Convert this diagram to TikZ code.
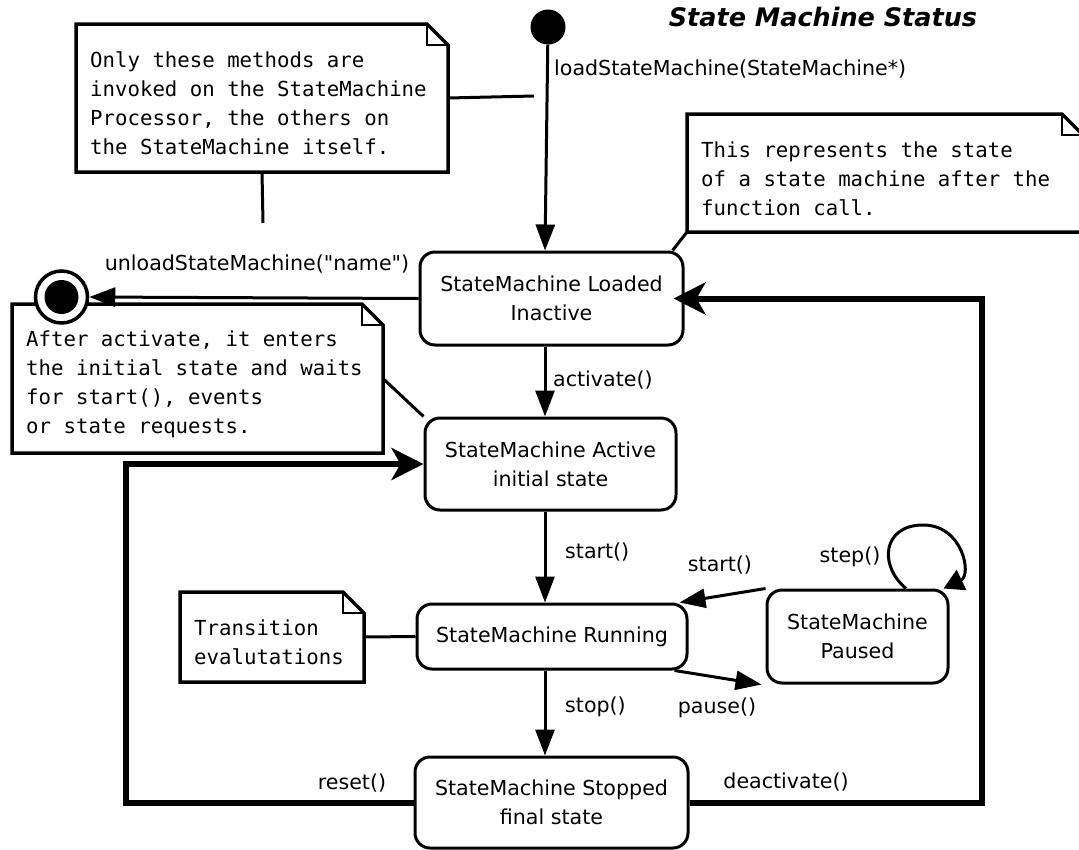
\documentclass[tikz,border=0pt]{standalone}
\usepackage{fontspec}
\setmainfont{DejaVu Sans}[Ligatures=TeXOff]
\newfontfamily\notemono{DejaVu Sans Mono}
\usetikzlibrary{arrows.meta}
\newcommand\statefont{\fontsize{20.6pt}{29pt}\selectfont}
\newcommand\notefont{\notemono\fontsize{20.7pt}{29pt}\selectfont}
\newcommand\titlefont{\fontsize{25.5pt}{30pt}\selectfont\bfseries\itshape}
\newcommand\dogear[1]{%
  \draw[notestroke] (#1.north west) -- ([xshift=-21pt]#1.north east) -- ([yshift=-21pt]#1.north east) -- (#1.south east) -- (#1.south west) -- cycle;
  \draw[foldstroke] ([xshift=-21pt]#1.north east) -- ([xshift=-21pt,yshift=-21pt]#1.north east) -- ([yshift=-21pt]#1.north east);}
\begin{document}
\begin{tikzpicture}[x=1pt,y=-1pt,
  state/.style={draw, line width=3pt, rounded corners=15pt, inner sep=0pt, font=\statefont, align=center},
  lbl/.style={inner sep=0pt, font=\statefont},
  notebg/.style={inner sep=0pt, outer sep=0pt, anchor=north west},
  notetext/.style={inner sep=0pt, anchor=west, align=left, font=\notefont},
  notestroke/.style={line width=3.5pt, fill=white, line join=miter},
  foldstroke/.style={line width=2pt},
  thinarrow/.style={line width=3pt, -{Triangle[length=26pt,width=19pt]}},
  looparrow/.style={line width=6pt, -{Stealth[length=32pt,width=32pt,inset=9pt]}},
  link/.style={line width=3pt},
  initst/.style={circle, fill=black, minimum size=35pt, inner sep=0pt},
  finalst/.style={circle, draw, fill=white, line width=3.5pt, minimum size=52pt, inner sep=0pt},
  finalin/.style={circle, fill=black, minimum size=34pt, inner sep=0pt}
]
\useasboundingbox (0,0) rectangle (1079,849);
\fill[white] (0,0) rectangle (1079,849);
\clip (0,0) rectangle (1079,849);

% title
\node[inner sep=0pt, font=\titlefont] (title) at (823,17) {State Machine Status};

% states
\node[initst] (init) at (548,27) {};
\node[state, minimum width=263pt, minimum height=93pt] (loaded) at (551.5,298.5) {StateMachine Loaded\\Inactive};
\node[state, minimum width=251pt, minimum height=92pt] (active) at (550.5,464) {StateMachine Active\\initial state};
\node[state, minimum width=270pt, minimum height=65pt] (running) at (552,636.5) {StateMachine Running};
\node[state, minimum width=181pt, minimum height=93pt] (paused) at (857.5,636.5) {StateMachine\\Paused};
\node[state, minimum width=273pt, minimum height=91pt] (stopped) at (551.5,802.5) {StateMachine Stopped\\final state};

% notes
\node[notebg, minimum width=372pt, minimum height=148pt] (n1) at (76,24) {};
\dogear{n1}
\node[notetext] (n1t) at (90,103.5) {Only these methods are\\invoked on the StateMachine\\Processor, the others on\\the StateMachine itself.};

\node[notebg, minimum width=396pt, minimum height=118pt] (n2) at (687,114) {};
\dogear{n2}
\node[notetext] (n2t) at (701,179) {This represents the state\\of a state machine after the\\function call.};

\node[notebg, minimum width=371pt, minimum height=149pt] (n3) at (12,304) {};
\dogear{n3}
\node[notetext] (n3t) at (26,384) {After activate, it enters\\the initial state and waits\\for start(), events\\or state requests.};

\node[notebg, minimum width=184pt, minimum height=90pt] (n4) at (180,592) {};
\dogear{n4}
\node[notetext] (n4t) at (194,642.5) {Transition\\evalutations};

% final state (drawn over note 3)
\node[finalst] (final) at (61.5,297) {};
\node[finalin] (finaldot) at (final.center) {};

% note links
\coordinate (n1end) at (534,96);
\coordinate (n1end2) at (263,223);
\draw[link] (n1.east) -- (n1end);
\draw[link] (n1.south) -- (n1end2);
\draw[link] (n2.south west) -- ([xshift=-12pt]loaded.north east);
\draw[link] (n3.east) -- (active.north west);
\draw[link] (n4.east) -- (running.west);

% transitions
\draw[thinarrow] (init) -- ([xshift=-6.5pt]loaded.north);
\node[lbl, anchor=west] (lload) at (554,69) {loadStateMachine(StateMachine*)};

\draw[thinarrow] (loaded.west) -- (final.east);
\node[lbl] (lunload) at (257,264) {unloadStateMachine("name")};

\draw[thinarrow] ([xshift=-6.5pt]loaded.south) -- ([xshift=-5.5pt]active.north);
\node[lbl, anchor=west] (lact) at (553,380) {activate()};

\draw[thinarrow] ([xshift=-5.5pt]active.south) -- ([xshift=-7pt]running.north);
\node[lbl, anchor=west] (lstart) at (565,552) {start()};

\draw[thinarrow] ([xshift=-7pt]running.south) -- ([xshift=-6.5pt]stopped.north);
\node[lbl, anchor=west] (lstop) at (565,707) {stop()};

\draw[thinarrow] (paused.north west) -- ([xshift=-9pt]running.north east);
\node[lbl] (lstart2) at (720,565) {start()};

\draw[thinarrow] ([xshift=-14pt]running.south east) -- ([xshift=-4pt]paused.south west);
\node[lbl] (lpause) at (717,708) {pause()};

\coordinate (looptop) at (923,525);
\draw[line width=3pt, -{Triangle[length=20pt,width=22pt]}] ([xshift=48.5pt]paused.north) .. controls (878,565) and (883,525) .. (looptop) .. controls (963,525) and (972,575) .. ([xshift=86pt]paused.north);
\node[lbl] (lstep) at (850,557) {step()};

\coordinate (rlx) at (126,600);
\draw[looparrow] (stopped.west) -| (rlx) |- (active.west);
\node[lbl] (lreset) at (352,783) {reset()};

\coordinate (rrx) at (982,500);
\draw[looparrow, shorten >=-11pt] (stopped.east) -| (rrx) |- (loaded.east);
\node[lbl] (ldeact) at (786,782) {deactivate()};
\end{tikzpicture}
\end{document}
